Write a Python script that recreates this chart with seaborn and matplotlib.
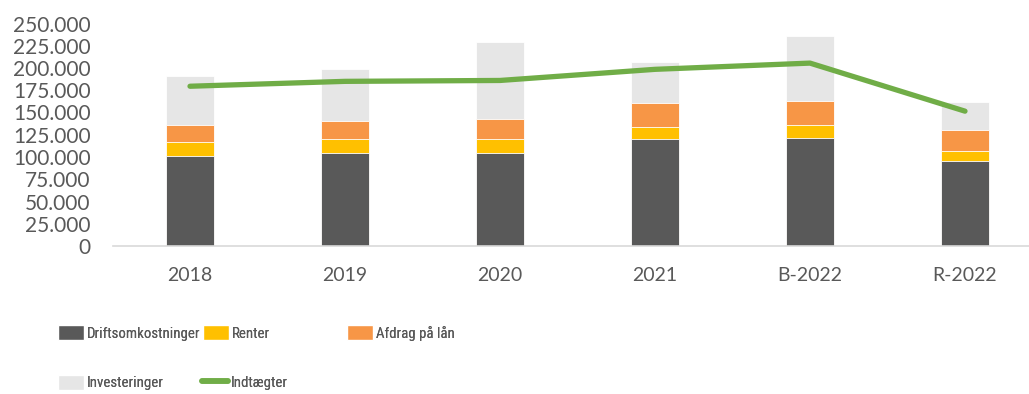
import numpy as np
import matplotlib
matplotlib.use("Agg")
import matplotlib.pyplot as plt
from matplotlib import font_manager
from matplotlib.ticker import FuncFormatter, MultipleLocator
from matplotlib.patches import Patch
from matplotlib.lines import Line2D
import seaborn as sns

# Budget figures (DKK 1.000)
years = ["2018", "2019", "2020", "2021", "B-2022", "R-2022"]
driftsomkostninger = [101000, 104500, 104500, 120000, 121500, 96000]
renter = [15500, 15500, 15500, 14000, 14000, 10500]
afdrag = [20000, 20500, 22500, 27000, 27500, 23500]
investeringer = [54500, 58000, 87000, 46000, 73000, 32000]
indtaegter = [179500, 185000, 186000, 198500, 205500, 151500]

C_DRIFT = "#595959"
C_RENTER = "#FFC000"
C_AFDRAG = "#F79646"
C_INVEST = "#E6E6E6"
C_LINE = "#70AD47"
C_TEXT = "#595959"

sns.set_style("white")
avail = {f.name for f in font_manager.fontManager.ttflist}
base_font = "Lato" if "Lato" in avail else "DejaVu Sans"
narrow_font = next((n for n in ["Liberation Sans Narrow", "Roboto Condensed",
                                "Open Sans Condensed", "Roboto"] if n in avail),
                   base_font)
plt.rcParams["font.family"] = [base_font, "DejaVu Sans"]

W, H = 1029, 394
fig = plt.figure(figsize=(W / 100, H / 100), dpi=100)
ax_left, ax_right, ax_bottom, ax_top = 113, 1029, 246, 23.5
ax = fig.add_axes([ax_left / W, 1 - ax_bottom / H,
                   (ax_right - ax_left) / W, (ax_bottom - ax_top) / H])

# Stacked bars drawn as cumulative totals, tallest layer first
layers = [driftsomkostninger, renter, afdrag, investeringer]
colors = [C_DRIFT, C_RENTER, C_AFDRAG, C_INVEST]
cum = np.cumsum(np.array(layers, dtype=float), axis=0)
for i in range(len(layers) - 1, -1, -1):
    sns.barplot(x=years, y=cum[i], color=colors[i], saturation=1, width=0.31,
                edgecolor="white", linewidth=0.6, ax=ax)

sns.lineplot(x=np.arange(len(years)), y=indtaegter, color=C_LINE, linewidth=3.8,
             solid_capstyle="round", solid_joinstyle="round", ax=ax, zorder=5)

ax.set_ylim(0, 250000)
ax.set_xlim(-(190 - ax_left) / 155, (ax_right - 190) / 155)
ax.yaxis.set_major_locator(MultipleLocator(25000))
ax.yaxis.set_major_formatter(FuncFormatter(lambda v, p: f"{int(v):,}".replace(",", ".")))
ax.set_xlabel("")
ax.set_ylabel("")
for s in ["top", "right", "left"]:
    ax.spines[s].set_visible(False)
ax.spines["bottom"].set_color("#D9D9D9")
ax.spines["bottom"].set_linewidth(1.2)
ax.tick_params(axis="y", length=0, pad=16, labelsize=15, labelcolor=C_TEXT)
ax.tick_params(axis="x", length=0, pad=15, labelsize=14, labelcolor=C_TEXT)
ax.grid(False)

# Size the legend font so the longest label fits its column slot
renderer = fig.canvas.get_renderer()
probe = fig.text(0, 0, "Driftsomkostninger", family=narrow_font, size=20)
probe_w = probe.get_window_extent(renderer).width
probe.remove()
fs = min(17.0, 20 * 113 / probe_w)

entries = [
    (Patch(facecolor=C_DRIFT), "Driftsomkostninger", 58, 333),
    (Patch(facecolor=C_RENTER), "Renter", 203, 333),
    (Patch(facecolor=C_AFDRAG), "Afdrag på lån", 347, 333),
    (Patch(facecolor=C_INVEST), "Investeringer", 58, 382.5),
    (Line2D([], [], color=C_LINE, linewidth=4.0, solid_capstyle="round"), "Indtægter", 202, 382.5),
]
fs_px = fs * 100 / 72
# legend box height = fs*h - 0.35*fs*(h - 0.7); solve for a 15 px swatch
hh = (15 / fs_px - 0.245) / 0.65
for handle, label, xp, yp in entries:
    leg = fig.legend([handle], [label], loc="center left",
                     bbox_to_anchor=(xp / W, 1 - yp / H), frameon=False,
                     borderpad=0, borderaxespad=0,
                     handlelength=26 / fs_px, handleheight=hh,
                     handletextpad=3 / fs_px,
                     prop={"family": narrow_font, "size": fs})
    for t in leg.get_texts():
        t.set_color(C_TEXT)
    fig.add_artist(leg)

fig.savefig("out.png", dpi=100)
